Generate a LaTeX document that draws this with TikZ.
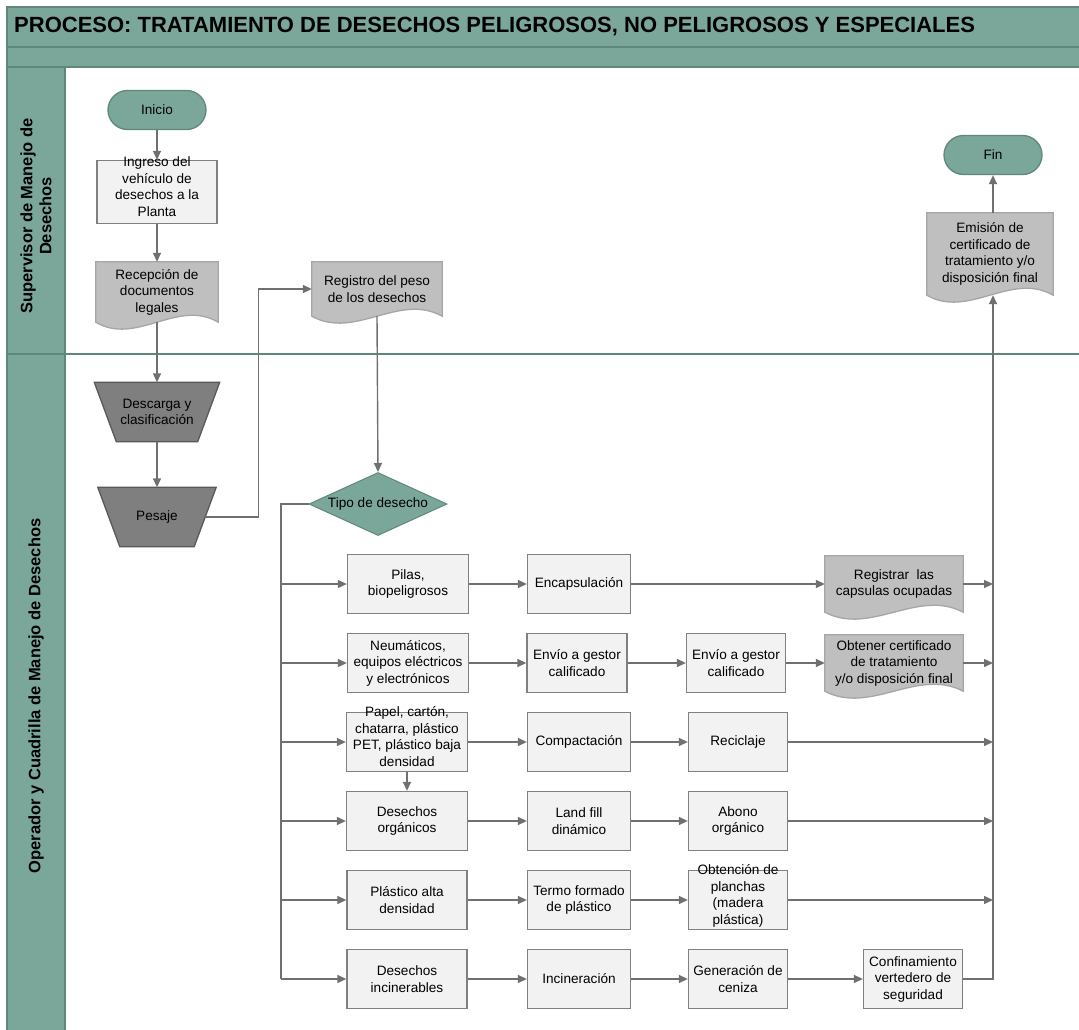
\documentclass[tikz,border=0pt]{standalone}
\usepackage{fontspec}
\setmainfont{Liberation Sans}
\usetikzlibrary{shapes.geometric,arrows.meta,backgrounds,calc}

\definecolor{laneFill}{RGB}{123,167,155}
\definecolor{laneEdge}{RGB}{94,136,124}
\definecolor{procFill}{RGB}{242,242,242}
\definecolor{procEdge}{RGB}{128,128,128}
\definecolor{docFill}{RGB}{191,191,191}
\definecolor{docEdge}{RGB}{166,166,166}
\definecolor{trapFill}{RGB}{127,127,127}
\definecolor{trapEdge}{RGB}{89,89,89}
\definecolor{flowLine}{RGB}{112,112,112}

\begin{document}
\begin{tikzpicture}[x=1pt, y=-1pt,
    every node/.style={font=\fontsize{13.6}{16.5}\selectfont, align=center, inner sep=0pt},
    proc/.style={draw=procEdge, fill=procFill, line width=1.3pt, minimum width=#1, minimum height=59},
    proc/.default=121,
    term/.style={draw=laneEdge, fill=laneFill, line width=1.3pt, rounded corners=19.5pt, minimum width=98, minimum height=39},
    docnode/.style 2 args={minimum width=#1, minimum height=#2},
    trap/.style={minimum width=#1, minimum height=59},
    choice/.style={diamond, aspect=2.2, draw=laneEdge, fill=laneFill, line width=1pt, minimum width=138, minimum height=63},
    flow/.style={draw=flowLine, line width=1.4pt, -{Triangle[length=9pt,width=8pt]}},
    link/.style={draw=flowLine, line width=1.4pt}]
  \newcommand{\DocWave}[1]{% wavy bottom, drawn behind the text
    \begin{scope}[on background layer]
      \draw[draw=docEdge, fill=docFill, line width=1.3pt]
        (#1.south west) -- (#1.north west) -- (#1.north east) -- (#1.south east)
        .. controls ($(#1.south east)!0.33!(#1.south west)+(0,-24)$)
        and ($(#1.south east)!0.67!(#1.south west)+(0,24)$) .. (#1.south west) -- cycle;
    \end{scope}}
  \newcommand{\TrapShape}[1]{% manual operation, wide side on top
    \begin{scope}[on background layer]
      \draw[draw=trapEdge, fill=trapFill, line width=1.3pt]
        (#1.north west) -- (#1.north east) -- ($(#1.south east)+(-22,0)$) -- ($(#1.south west)+(22,0)$) -- cycle;
    \end{scope}}
  \newcommand{\Spill}[1]{\smash{\begin{tabular}{@{}c@{}}#1\end{tabular}}}
  \useasboundingbox (0,0) rectangle (1079,1030);

  % pool and lanes
  \fill[laneFill] (7,7) rectangle (1079,67);
  \fill[laneFill] (7,67) rectangle (65,1031);
  \draw[laneEdge, line width=1.5pt] (7,47) -- (1079,47);
  \draw[laneEdge, line width=1.5pt] (7,67) -- (1079,67);
  \draw[laneEdge, line width=1.5pt] (7,1031) -- (7,7) -- (1080,7);
  \draw[laneEdge, line width=1.5pt] (65,67) -- (65,1031);
  \draw[laneEdge, line width=2pt] (7,354) -- (1079,354);
  \node[anchor=west, font=\bfseries\fontsize{22}{26}\selectfont] (title) at (14,27)
    {PROCESO: TRATAMIENTO DE DESECHOS PELIGROSOS, NO PELIGROSOS Y ESPECIALES};
  \node[rotate=90, font=\bfseries\fontsize{16.5}{19}\selectfont] (laneSup) at (36,216) {Supervisor de Manejo de\\Desechos};
  \node[rotate=90, font=\bfseries\fontsize{16.5}{19}\selectfont] (laneOp) at (36,696) {Operador y Cuadrilla de Manejo de Desechos};

  % supervisor lane
  \node[term] (inicio) at (157,110) {Inicio};
  \node[proc=120, minimum height=63] (ingreso) at (157,192) {\Spill{Ingreso del\\vehículo de\\desechos a la\\Planta}};
  \node[docnode={122}{60}] (recep) at (157,292) {Recepción de\\documentos\\legales};
  \DocWave{recep}
  \node[docnode={130}{54}] (registro) at (377,289) {Registro del peso\\de los desechos};
  \DocWave{registro}
  \node[term] (fin) at (993,155) {Fin};
  \node[docnode={126}{82}] (emision) at (990,254) {Emisión de\\certificado de\\tratamiento y/o\\disposición final};
  \DocWave{emision}

  % operator lane
  \node[trap=125] (descarga) at (157,412) {Descarga y\\clasificación};
  \TrapShape{descarga}
  \node[trap=118] (pesaje) at (157,517) {Pesaje};
  \TrapShape{pesaje}
  \node[choice] (tipo) at (378,504) {Tipo de desecho};

  \node[proc] (pilas) at (408,584) {Pilas,\\biopeligrosos};
  \node[proc=103] (encaps) at (579,584) {Encapsulación};
  \node[docnode={138}{56}] (regcap) at (894,584) {Registrar~ las\\capsulas ocupadas};
  \DocWave{regcap}

  \node[proc] (neuma) at (408,663) {Neumáticos,\\equipos eléctricos\\y electrónicos};
  \node[proc=100] (envioA) at (577,663) {Envío a gestor\\calificado};
  \node[proc=99] (envioB) at (736,663) {Envío a gestor\\calificado};
  \node[docnode={138}{56}] (obtcert) at (894,663) {Obtener certificado\\de tratamiento\\y/o disposición final};
  \DocWave{obtcert}

  \node[proc] (papel) at (407,742) {\Spill{Papel, cartón,\\chatarra, plástico\\PET, plástico baja\\densidad}};
  \node[proc=103] (compac) at (579,742) {Compactación};
  \node[proc=99] (recic) at (738,742) {Reciclaje};

  \node[proc] (organ) at (407,821) {Desechos\\orgánicos};
  \node[proc=103] (landfill) at (579,821) {Land fill\\dinámico};
  \node[proc=99] (abono) at (738,821) {Abono\\orgánico};

  \node[proc=120] (plasalta) at (407,900) {Plástico alta\\densidad};
  \node[proc=103] (termo) at (579,900) {Termo formado\\de plástico};
  \node[proc=99] (planchas) at (738,900) {\Spill{Obtención de\\planchas\\(madera\\plástica)}};

  \node[proc=120] (incinb) at (407,979) {Desechos\\incinerables};
  \node[proc=103] (incin) at (579,979) {Incineración};
  \node[proc=99] (ceniza) at (738,979) {Generación de\\ceniza};
  \node[proc=99] (confin) at (913,979) {Confinamiento\\vertedero de\\seguridad};

  \coordinate (trunk) at (281,0);
  \coordinate (sink) at (993,0);

  % connectors
  \draw[flow] (inicio) -- (ingreso);
  \draw[flow] (ingreso) -- (recep);
  \draw[flow] (recep.south) -- (descarga.north);
  \draw[flow] (descarga) -- (pesaje);
  \draw[flow] ([xshift=-11pt]pesaje.east) -- ++(53,0) |- (registro.west);
  \draw[flow] (registro.south) -- (tipo.north);
  \draw[link] (tipo.west) -| (trunk |- incinb);
  \draw[flow] (trunk |- pilas) -- (pilas);
  \draw[flow] (trunk |- neuma) -- (neuma);
  \draw[flow] (trunk |- papel) -- (papel);
  \draw[flow] (trunk |- organ) -- (organ);
  \draw[flow] (trunk |- plasalta) -- (plasalta);
  \draw[flow] (trunk |- incinb) -- (incinb);
  \draw[flow] (papel) -- (organ);

  \draw[flow] (pilas) -- (encaps);
  \draw[flow] (encaps) -- (regcap);
  \draw[flow] (neuma) -- (envioA);
  \draw[flow] (envioA) -- (envioB);
  \draw[flow] (envioB) -- (obtcert);
  \draw[flow] (papel) -- (compac);
  \draw[flow] (compac) -- (recic);
  \draw[flow] (organ) -- (landfill);
  \draw[flow] (landfill) -- (abono);
  \draw[flow] (plasalta) -- (termo);
  \draw[flow] (termo) -- (planchas);
  \draw[flow] (incinb) -- (incin);
  \draw[flow] (incin) -- (ceniza);
  \draw[flow] (ceniza) -- (confin);

  \draw[flow] (regcap) -- (sink |- regcap);
  \draw[flow] (obtcert) -- (sink |- obtcert);
  \draw[flow] (recic) -- (sink |- recic);
  \draw[flow] (abono) -- (sink |- abono);
  \draw[flow] (planchas) -- (sink |- planchas);
  \draw[flow] (confin.east) -| (sink |- emision.south);
  \draw[flow] (fin |- emision.north) -- (fin);
\end{tikzpicture}
\end{document}
